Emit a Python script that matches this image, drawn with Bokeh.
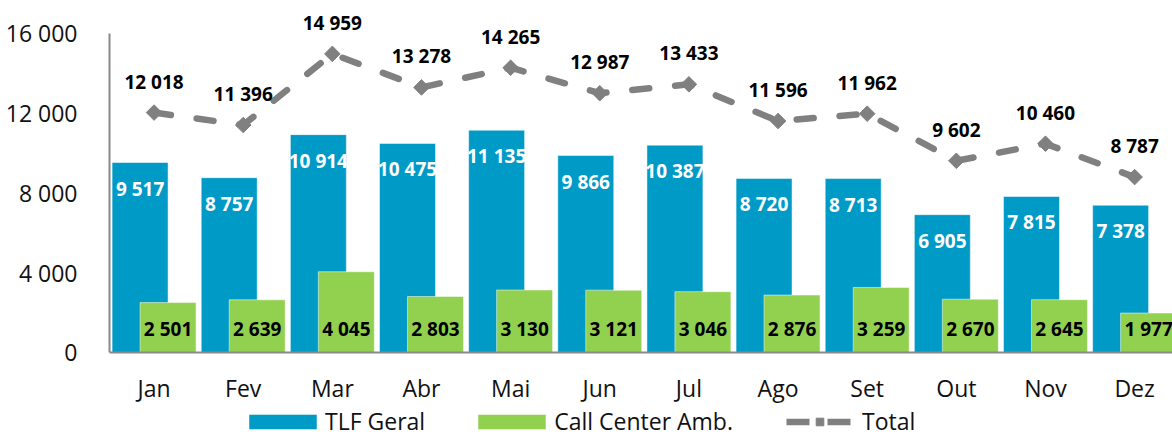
import numpy as np
from bokeh.plotting import figure
from bokeh.models import Range1d, FixedTicker, Legend, LegendItem, ColumnDataSource, Span
from bokeh.transform import dodge
from bokeh.core.properties import value
from bokeh.embed import file_html
from bokeh.resources import INLINE

months = ["Jan", "Fev", "Mar", "Abr", "Mai", "Jun", "Jul", "Ago", "Set", "Out", "Nov", "Dez"]
tlf_geral = [9517, 8757, 10914, 10475, 11135, 9866, 10387, 8720, 8713, 6905, 7815, 7378]
call_center = [2501, 2639, 4045, 2803, 3130, 3121, 3046, 2876, 3259, 2670, 2645, 1977]
total = [12018, 11396, 14959, 13278, 14265, 12987, 13433, 11596, 11962, 9602, 10460, 8787]
y_ticks = [0, 4000, 8000, 12000, 16000]


def fmt(v):
    return f"{v:,}".replace(",", " ")


BLUE = "#009AC7"
GREEN = "#92D050"
GRAY = "#808080"
AXIS = "#898989"
FONT = "Open Sans"

src = ColumnDataSource(dict(
    x=list(range(len(months))),
    month=months,
    tlf=tlf_geral,
    call=call_center,
    total=total,
    tlf_lbl=[fmt(v) for v in tlf_geral],
    call_lbl=[fmt(v) for v in call_center],
    total_lbl=[fmt(v) for v in total],
))

p = figure(width=1172, height=437,
           x_range=Range1d(-0.5, 11.425), y_range=Range1d(-4258, 17633),
           output_backend="svg", toolbar_location=None,
           min_border_left=109, min_border_right=0,
           min_border_top=0, min_border_bottom=0)
p.outline_line_color = None
p.xgrid.visible = False
p.ygrid.visible = False
p.xaxis.visible = False
p.background_fill_color = "white"
p.border_fill_color = "white"

off = 0.157
bw = 0.628
r_tlf = p.vbar(x=dodge("x", -off), top="tlf", bottom=0, width=bw, source=src,
               fill_color=BLUE, line_color="white", line_alpha=0.5, line_width=1)
r_call = p.vbar(x=dodge("x", off), top="call", bottom=0, width=bw, source=src,
                fill_color=GREEN, line_color="white", line_alpha=0.5, line_width=1)

# category axis line at zero
p.add_layout(Span(location=0, dimension="width", line_color=AXIS, line_width=2))

r_line = p.line(x="x", y="total", source=src, line_color=GRAY, line_width=6.5,
                line_dash="17 26", line_cap="round", line_join="round")
r_mark = p.scatter(x="x", y="total", source=src, marker="square", angle=np.pi / 4,
                   size=11, fill_color=GRAY, line_color=GRAY)
# legend-only swatch for the Total series (dash, marker, dash); draws nothing in the plot
r_line_key = p.line(x=[np.nan], y=[np.nan], line_color=GRAY, line_width=6.5,
                    line_dash="23 18", line_dash_offset=32, line_cap="butt")

common = dict(text_align="center", text_baseline="middle",
              text_font=value(FONT), text_font_style="bold", text_font_size="19px")
p.text(x=dodge("x", -off), y="tlf", text="tlf_lbl", source=src, y_offset=26,
       text_color="white", **common)
p.text(x=dodge("x", off), y=0, text="call_lbl", source=src, y_offset=-23.5,
       text_color="black", **common)
p.text(x="x", y="total", text="total_lbl", source=src, y_offset=-31,
       text_color="black", **common)

# month labels (category axis)
p.text(x="x", y=0, text="month", source=src, y_offset=36,
       text_align="center", text_baseline="middle", text_font=value(FONT),
       text_font_size="23px", text_color="#111111")

# value axis
p.yaxis.ticker = FixedTicker(ticks=y_ticks)
p.yaxis.major_label_overrides = {t: fmt(t) for t in y_ticks}
p.yaxis.bounds = (0, 16000)
p.yaxis.axis_line_color = AXIS
p.yaxis.axis_line_width = 2
p.yaxis.major_tick_line_color = None
p.yaxis.minor_tick_line_color = None
p.yaxis.major_label_text_font = FONT
p.yaxis.major_label_text_font_size = "23px"
p.yaxis.major_label_text_color = "#111111"
p.yaxis.major_label_standoff = 26

legend = Legend(items=[
    LegendItem(label="TLF Geral", renderers=[r_tlf]),
    LegendItem(label="Call Center Amb.", renderers=[r_call]),
    LegendItem(label="Total", renderers=[r_line_key, r_mark]),
], orientation="horizontal", location=(131, 0))
legend.glyph_width = 85
legend.glyph_height = 19
legend.label_standoff = -3
legend.spacing = 44
legend.padding = 0
legend.margin = 0
legend.border_line_color = None
legend.background_fill_alpha = 0
legend.label_text_font = FONT
legend.label_text_font_size = "23px"
legend.label_text_color = "#111111"
p.add_layout(legend)

open("out.html", "w").write(file_html(p, INLINE))
